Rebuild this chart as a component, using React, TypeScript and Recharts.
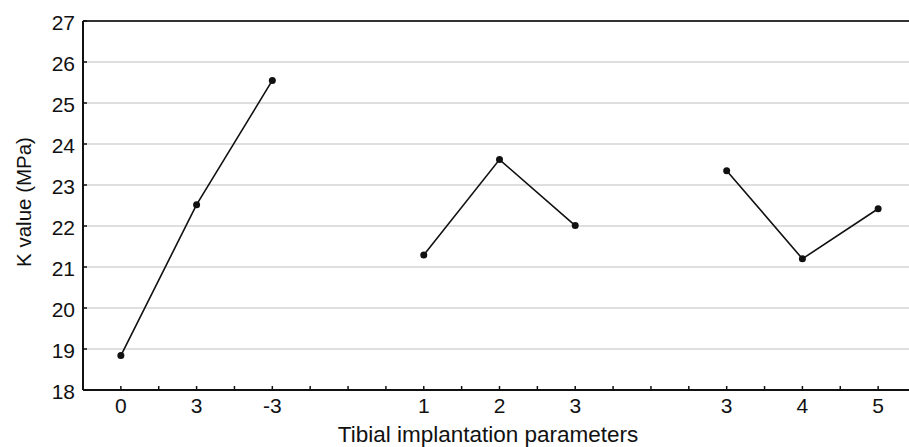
import { LineChart, Line, XAxis, YAxis, CartesianGrid, ReferenceLine } from 'recharts';

const xLabels = ['0', '3', '-3', '', '1', '2', '3', '', '3', '4', '5'];
const kValues: (number | null)[] = [18.84, 22.52, 25.55, null, 21.29, 23.62, 22.01, null, 23.35, 21.2, 22.42];
const yTicks = [18, 19, 20, 21, 22, 23, 24, 25, 26, 27];

const chartData = xLabels.map((label, i) => ({ pos: i, label, k: kValues[i] }));
// major ticks on each slot, minor ones halfway between
const xTicks = xLabels.flatMap((_, i) => (i < xLabels.length - 1 ? [i, i + 0.5] : [i]));

const font = '"Liberation Sans", Arial, sans-serif';
const ink = '#111';

const XTick = ({ x, y, payload }: any) => {
  const isMajor = Number.isInteger(payload.value);
  return (
    <g>
      <line x1={x} x2={x} y1={y} y2={y - 4} stroke={ink} strokeWidth={1.5} />
      {isMajor && (
        <text x={x} y={y + 23} textAnchor="middle" fontSize={21} fill={ink} fontFamily={font}>
          {xLabels[payload.value]}
        </text>
      )}
    </g>
  );
};

const YTick = ({ x, y, payload }: any) => (
  <g>
    <line x1={x} x2={x + 4} y1={y} y2={y} stroke={ink} strokeWidth={1.5} />
    <text x={x - 8} y={y + 9} textAnchor="end" fontSize={21} fill={ink} fontFamily={font}>
      {payload.value}
    </text>
  </g>
);

export default function App() {
  return (
    <div style={{ position: 'absolute', left: 0, top: 0, width: 909, height: 447, overflow: 'hidden', background: '#fff' }}>
      <LineChart width={930} height={447} data={chartData} margin={{ top: 21, right: 14, left: 0, bottom: 0 }}>
        <CartesianGrid vertical={false} stroke="#d4d4d4" strokeWidth={1.5} />
        <XAxis
          dataKey="pos"
          type="number"
          domain={[-0.5, 10.5]}
          ticks={xTicks}
          interval={0}
          height={57}
          tickSize={0}
          tickMargin={0}
          tickLine={false}
          tick={<XTick />}
          axisLine={{ stroke: ink, strokeWidth: 2 }}
          label={{
            content: () => (
              <text x={488} y={442} textAnchor="middle" fontSize={22.5} fill={ink} fontFamily={font}>
                Tibial implantation parameters
              </text>
            ),
          }}
        />
        <YAxis
          domain={[18, 27]}
          ticks={yTicks}
          interval={0}
          width={83}
          tickSize={0}
          tickMargin={0}
          tickLine={false}
          tick={<YTick />}
          axisLine={{ stroke: ink, strokeWidth: 2 }}
          label={{
            content: () => (
              <text
                x={31}
                y={202}
                textAnchor="middle"
                fontSize={20.5}
                fill={ink}
                fontFamily={font}
                transform="rotate(-90 31 202)"
              >
                K value (MPa)
              </text>
            ),
          }}
        />
        <ReferenceLine y={27} stroke="#333" strokeWidth={2} />
        <Line
          dataKey="k"
          stroke={ink}
          strokeWidth={1.6}
          connectNulls={false}
          dot={{ r: 3.5, fill: ink, stroke: ink, strokeWidth: 0 }}
          isAnimationActive={false}
        />
      </LineChart>
    </div>
  );
}
